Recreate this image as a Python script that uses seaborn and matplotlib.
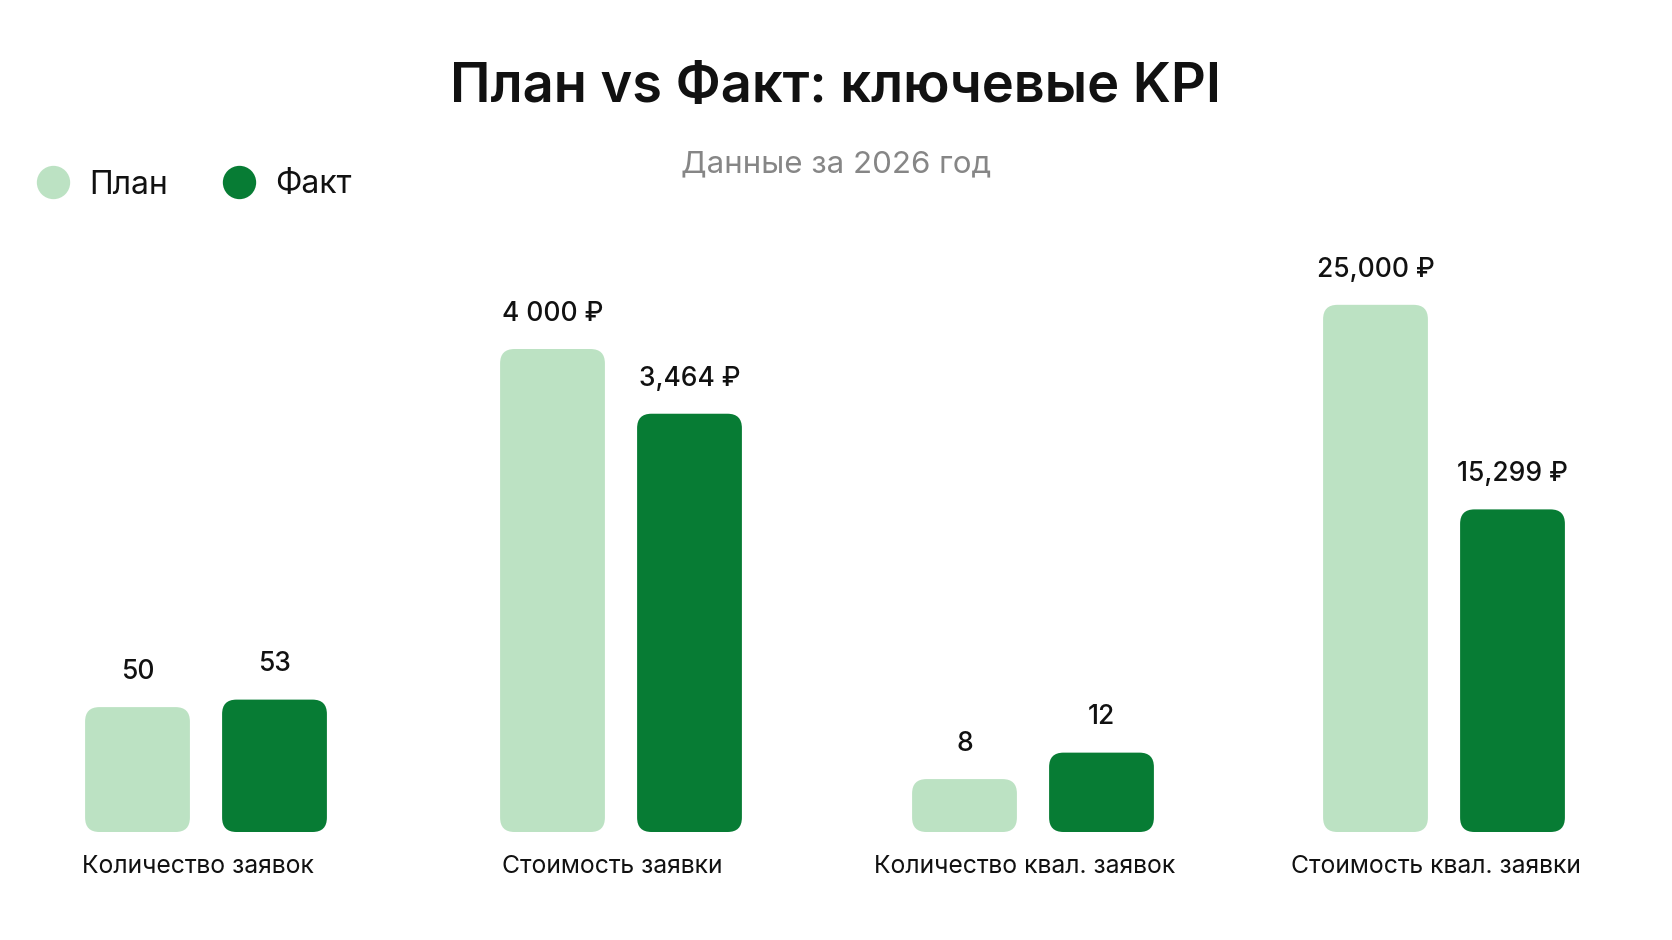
import pandas as pd
import matplotlib.pyplot as plt
import seaborn as sns
from matplotlib.patches import FancyBboxPatch
from matplotlib.lines import Line2D

# Data
categories = ['Количество заявок', 'Стоимость заявки', 'Количество квал. заявок', 'Стоимость квал. заявки']
plan = [50, 4000, 8, 25000]
fact = [53, 3464, 12, 15299]
plan_labels = ['50', '4 000 ₽', '8', '25,000 ₽']
fact_labels = ['53', '3,464 ₽', '12', '15,299 ₽']
series = ['План', 'Факт']

# each KPI has its own scale, so each gets its own axes
y_tops = [233, 4820, 88, 27600]
colors = {'План': '#bce2c3', 'Факт': '#077c34'}

sns.set_theme(style='white')
plt.rcParams['font.family'] = ['Inter', 'DejaVu Sans']

W, H = 1672, 940
fig = plt.figure(figsize=(W / 100, H / 100), dpi=100)
fig.patch.set_facecolor('white')

centers = [206, 621, 1033, 1444]
ax_w = 412
base_px = 832
top_px = 250
unit_px = 137  # distance between plan and fact bar centres

for i, cat in enumerate(categories):
    ax = fig.add_axes([(centers[i] - ax_w / 2) / W, (H - base_px) / H,
                       ax_w / W, (base_px - top_px) / H])
    df = pd.DataFrame({'series': series, 'value': [plan[i], fact[i]]})
    sns.barplot(data=df, x='series', y='value', hue='series', palette=colors,
                saturation=1, width=0.765, legend=False, ax=ax)
    half = ax_w / unit_px / 2
    ax.set_xlim(0.5 - half, 0.5 + half)
    ax.set_ylim(0, y_tops[i])
    ax.axis('off')

    for cont, labs in zip(ax.containers, [[plan_labels[i]], [fact_labels[i]]]):
        ax.bar_label(cont, labels=labs, padding=16, fontsize=19,
                     fontweight='medium', color='#111111')

    # swap rectangles for rounded ones
    aspect = (y_tops[i] / (base_px - top_px)) * unit_px
    for p in list(ax.patches):
        x0, y0 = p.get_x(), p.get_y()
        w, h = p.get_width(), p.get_height()
        r = min(0.105, h / aspect / 2)
        fb = FancyBboxPatch((x0, y0), w, h,
                            boxstyle=f'round,pad=0,rounding_size={r}',
                            mutation_aspect=aspect,
                            facecolor=p.get_facecolor(), edgecolor='none')
        p.set_visible(False)
        ax.add_patch(fb)

    ax.annotate(cat, xy=(0.5, 0), xycoords='axes fraction', xytext=(-6, -25),
                textcoords='offset points', ha='center', va='center',
                fontsize=17.8, color='#111111')

fig.text(0.5, 1 - 88 / H, 'План vs Факт: ключевые KPI', ha='center', va='center',
         fontsize=39, fontweight='semibold', color='#111111')
fig.text(0.5, 1 - 164 / H, 'Данные за 2026 год', ha='center', va='center',
         fontsize=22.5, color='#868686')

handles = [Line2D([], [], marker='o', linestyle='none', markersize=24,
                  markerfacecolor=colors[s], markeredgecolor='none') for s in series]
fig.legend(handles, series, loc='center left', bbox_to_anchor=(37 / W, 1 - 185 / H),
           ncol=2, frameon=False, fontsize=23, handlelength=1.0, handletextpad=0.65,
           columnspacing=1.7, borderpad=0, borderaxespad=0, labelcolor='#111111')

fig.savefig('out.png', dpi=100, facecolor='white')
